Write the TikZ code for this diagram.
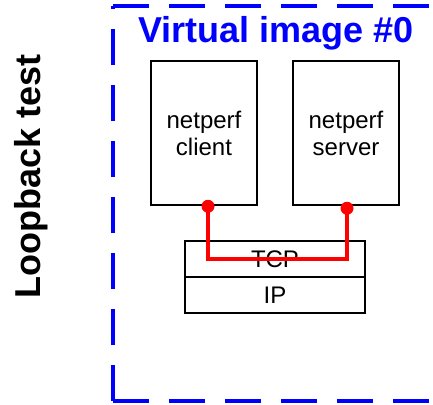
\documentclass[tikz,border=0pt]{standalone}
\usepackage{fontspec}
\setmainfont{Liberation Sans}
\usetikzlibrary{positioning}
\definecolor{FrameBlue}{RGB}{0, 0, 255}

\tikzset{
  proc/.style={draw, line width=2.5pt, minimum width=106pt, minimum height=144pt,
    align=center, font=\fontsize{24}{27}\selectfont},
  layer/.style={draw, line width=2.5pt, minimum width=180pt, minimum height=36pt,
    inner sep=0pt, outer sep=0pt, font=\fontsize{24}{27}\selectfont},
  frame/.style={FrameBlue, line width=4pt, dash pattern=on 36pt off 20pt},
  link/.style={red, line width=4pt},
  port/.style={circle, fill=red, inner sep=0pt, minimum size=13pt},
}

\begin{document}
\begin{tikzpicture}[x=1pt, y=-1pt]
    \useasboundingbox (0,0) rectangle (433,404);

    % VM frame (open on the right)
    \draw[frame] (113,401) -- (113,6);
    \draw[frame] (113,6) -- (433,6);
    \draw[frame] (113,401) -- (433,401);

    % Labels
    \node[FrameBlue, anchor=base, font=\fontsize{36}{40}\selectfont\bfseries]
      (title) at (276,43) {Virtual image \#0};
    \node[rotate=90, font=\fontsize{36}{40}\selectfont\bfseries]
      (mode) at (31,176) {Loopback test};

    % Processes
    \node[proc] (client) at (204,133) {netperf\\client};
    \node[proc] (server) at (346,133) {netperf\\server};

    % Protocol stack
    \node[layer] (tcp) at (275,259) {TCP};
    \node[layer, below=0pt of tcp] (ip) {IP};

    % Loopback path
    \node[port] (cport) at ([xshift=4pt]client.south) {};
    \node[port] (sport) at ([xshift=1pt, yshift=-2pt]server.south) {};
    \draw[link] (cport.center) |- (tcp.center) -| (sport.center);
  \end{tikzpicture}
\end{document}
